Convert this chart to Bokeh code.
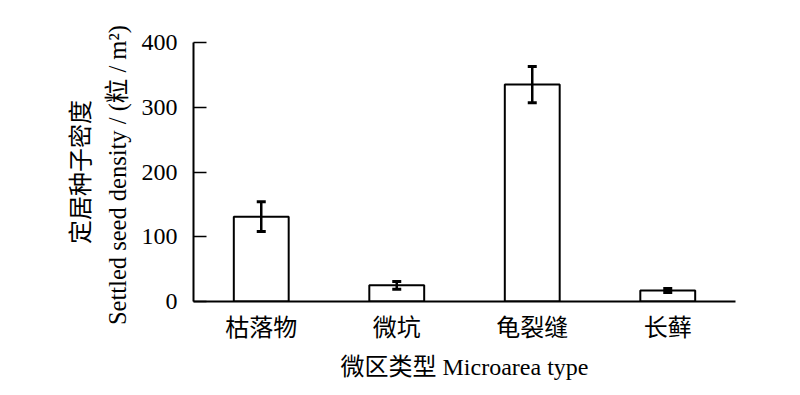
from bokeh.plotting import figure
from bokeh.models import ColumnDataSource, Whisker, FactorRange, Range1d, FixedTicker, TeeHead, Title
from bokeh.embed import file_html
from bokeh.resources import INLINE

categories = ["枯落物", "微坑", "龟裂缝", "长藓"]
density = [131, 25, 335, 17]
error = [23, 6, 28, 3]
y_ticks = [0, 100, 200, 300, 400]
y_label_cn = "定居种子密度"
y_label_en = "Settled seed  density / (粒 / m²)"
x_label = "微区类型 Microarea type"

FONT = "Liberation Serif, Noto Sans CJK SC"

src = ColumnDataSource(dict(
    cat=categories,
    val=density,
    upper=[v + e for v, e in zip(density, error)],
    lower=[v - e for v, e in zip(density, error)],
))

p = figure(
    width=792, height=387,
    x_range=FactorRange(factors=categories, range_padding=0),
    y_range=Range1d(0, 400),
    output_backend="svg", toolbar_location=None,
    min_border_left=193, min_border_right=57,
    min_border_top=42, min_border_bottom=86,
)
p.outline_line_color = None
p.xgrid.visible = False
p.ygrid.visible = False
p.background_fill_color = "white"

p.vbar(x="cat", top="val", width=0.405, source=src,
       fill_color="white", line_color="black", line_width=2)

w = Whisker(base="cat", upper="upper", lower="lower", source=src, level="overlay",
            line_color="black", line_width=2.5,
            upper_head=TeeHead(size=9, line_width=3, line_color="black"),
            lower_head=TeeHead(size=9, line_width=3, line_color="black"))
p.add_layout(w)

# x axis
xa = p.xaxis[0]
xa.axis_line_width = 2
xa.axis_line_color = "black"
xa.major_tick_in = 0
xa.major_tick_out = 0
xa.minor_tick_line_color = None
xa.major_label_text_font = FONT
xa.major_label_text_font_size = "24px"
xa.major_label_text_color = "black"
xa.major_label_standoff = 13
xa.axis_label = x_label
xa.axis_label_text_font = FONT
xa.axis_label_text_font_size = "24px"
xa.axis_label_text_font_style = "normal"
xa.axis_label_text_color = "black"
xa.axis_label_standoff = 10

# y axis
ya = p.yaxis[0]
ya.ticker = FixedTicker(ticks=y_ticks)
ya.axis_line_width = 2
ya.axis_line_color = "black"
ya.major_tick_in = 13
ya.major_tick_out = 0
ya.major_tick_line_width = 1.5
ya.minor_tick_line_color = None
ya.major_label_text_font = FONT
ya.major_label_text_font_size = "24px"
ya.major_label_text_color = "black"
ya.major_label_standoff = 16

t_en = Title(text=y_label_en, align="center", text_font=FONT, text_font_size="24.5px",
             text_font_style="normal", text_color="black", standoff=16, offset=14)
t_cn = Title(text=y_label_cn, align="center", text_font=FONT, text_font_size="24px",
             text_font_style="normal", text_color="black", standoff=0)
p.add_layout(t_en, "left")
p.add_layout(t_cn, "left")

open("out.html", "w").write(file_html(p, INLINE))
